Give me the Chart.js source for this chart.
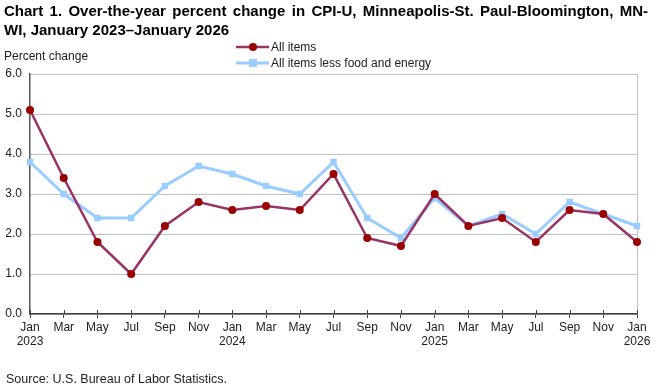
<!DOCTYPE html>
<html>
<head>
<meta charset="utf-8">
<script src="https://cdn.jsdelivr.net/npm/chart.js@4.4.1/dist/chart.umd.min.js"></script>
<style>
  html, body { margin: 0; padding: 0; background: #fff; }
  #wrap { width: 660px; height: 389px; position: relative; }
</style>
</head>
<body>
<div id="wrap"><canvas id="grafico" width="660" height="389"></canvas></div>
<script>
const categorias = [
  ["Jan", "2023"], "Mar", "May", "Jul", "Sep", "Nov",
  ["Jan", "2024"], "Mar", "May", "Jul", "Sep", "Nov",
  ["Jan", "2025"], "Mar", "May", "Jul", "Sep", "Nov",
  ["Jan", "2026"]
];
const todosItens = [5.1, 3.4, 1.8, 1.0, 2.2, 2.8, 2.6, 2.7, 2.6, 3.5, 1.9, 1.7, 3.0, 2.2, 2.4, 1.8, 2.6, 2.5, 1.8];
const semAlimentos = [3.8, 3.0, 2.4, 2.4, 3.2, 3.7, 3.5, 3.2, 3.0, 3.8, 2.4, 1.9, 2.9, 2.2, 2.5, 2.0, 2.8, 2.5, 2.2];
const ticksY = [0, 1, 2, 3, 4, 5, 6];

const titulo1 = "Chart 1. Over-the-year percent change in CPI-U, Minneapolis-St. Paul-Bloomington, MN-";
const titulo2 = "WI, January 2023\u2013January 2026";
const fonte = "Source: U.S. Bureau of Labor Statistics.";
const FONTE = "'Liberation Sans', Arial, sans-serif";

// desenha titulo, legenda, textos e marcas do eixo
const decor = {
  id: "decor",
  afterDraw(chart) {
    const c = chart.ctx;
    c.save();
    c.fillStyle = "#000";
    c.textBaseline = "middle";

    // titulo justificado (comprime um pouco se nao couber)
    c.font = "bold 15px " + FONTE;
    const palavras = titulo1.split(" ");
    const n = palavras.length - 1;
    const larg = palavras.reduce((s, p) => s + c.measureText(p).width, 0);
    let sx = 1;
    let esp = (644 - larg) / n;
    if (esp < 5) {
      esp = 5;
      sx = (644 - 5 * n) / larg;
    }
    let x = 4;
    palavras.forEach((p) => {
      c.save();
      c.translate(x, 12);
      c.scale(sx, 1);
      c.fillText(p, 0, 0);
      c.restore();
      x += c.measureText(p).width * sx + esp;
    });
    c.fillText(titulo2, 4, 31);

    c.font = "12px " + FONTE;
    c.fillStyle = "#222";
    c.fillText("Percent change", 4, 57);
    c.font = "12.5px " + FONTE;
    c.fillText(fonte, 6, 380);
    c.font = "12px " + FONTE;

    // legenda
    chart.data.datasets.forEach((ds, i) => {
      const y = 47 + i * 16;
      c.strokeStyle = ds.borderColor;
      c.lineWidth = ds.borderWidth;
      c.beginPath();
      c.moveTo(236, y);
      c.lineTo(269, y);
      c.stroke();
      c.fillStyle = ds.pointBackgroundColor;
      if (ds.pointStyle === "rect") {
        c.fillRect(249, y - 4, 8, 8);
      } else {
        c.beginPath();
        c.arc(253, y, 4, 0, Math.PI * 2);
        c.fill();
      }
      c.fillStyle = "#222";
      c.fillText(ds.label, 271, y + 1);
    });

    // marcas cruzando o eixo x
    const eixoX = chart.scales.x;
    const base = chart.chartArea.bottom;
    c.strokeStyle = "#404040";
    c.lineWidth = 1;
    categorias.forEach((_, i) => {
      const px = Math.round(eixoX.getPixelForValue(i)) + 0.5;
      c.beginPath();
      c.moveTo(px, base - 4);
      c.lineTo(px, base);
      c.stroke();
    });
    c.restore();
  },
};

const ctx = document.getElementById("grafico").getContext("2d");

let grafico = new Chart(ctx, {
  type: "line",
  data: {
    labels: categorias,
    datasets: [
      {
        label: "All items",
        data: todosItens,
        borderColor: "#993366",
        borderWidth: 2.5,
        pointStyle: "circle",
        pointRadius: 4,
        pointBackgroundColor: "#990000",
        pointBorderColor: "#990000",
        pointBorderWidth: 0,
        tension: 0,
      },
      {
        label: "All items less food and energy",
        data: semAlimentos,
        borderColor: "#99ccff",
        borderWidth: 3,
        pointStyle: "rect",
        pointRadius: 4.5,
        pointBackgroundColor: "#99ccff",
        pointBorderColor: "#99ccff",
        pointBorderWidth: 0,
        tension: 0,
      },
    ],
  },
  options: {
    responsive: false,
    animation: false,
    devicePixelRatio: 1,
    layout: { padding: { top: 74, right: 23, bottom: 35, left: 0 } },
    plugins: {
      legend: { display: false },
      title: { display: false },
      tooltip: { enabled: false },
    },
    scales: {
      x: {
        offset: false,
        afterFit: (s) => { s.height = 40; },
        grid: {
          color: (g) => (g.index === categorias.length - 1 ? "#c0c0c0" : "transparent"),
          tickColor: "#404040",
          tickLength: 4,
        },
        border: { color: "#404040", width: 1.5 },
        ticks: {
          color: "#222",
          font: { family: FONTE, size: 12 },
          padding: 2,
          maxRotation: 0,
          autoSkip: false,
        },
      },
      y: {
        min: 0,
        max: 6,
        afterFit: (s) => { s.width = 30; },
        afterBuildTicks: (s) => { s.ticks = ticksY.map((v) => ({ value: v })); },
        grid: { color: "#c0c0c0", drawTicks: false },
        border: { color: "#555", width: 1.5 },
        ticks: {
          color: "#222",
          font: { family: FONTE, size: 12 },
          padding: 8,
          callback: (v) => v.toFixed(1),
        },
      },
    },
  },
  plugins: [decor],
});
</script>
</body>
</html>
